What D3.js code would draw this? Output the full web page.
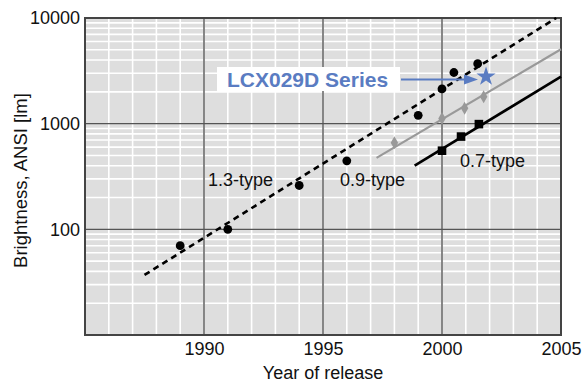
<!DOCTYPE html>
<html><head><meta charset="utf-8">
<script src="https://cdn.jsdelivr.net/npm/d3@7"></script>
<style>body{margin:0;background:#fff}svg{display:block}text{font-family:"Liberation Sans",Arial,sans-serif}</style>
</head><body>
<svg id="c" width="582" height="383"></svg>
<script>
// ---- data ----
const xTicks = [1990, 1995, 2000, 2005];
const yTicks = [100, 1000, 10000];
const years13 = [1989, 1991, 1994, 1996, 1999, 2000, 2000.5, 2001.5];
const bright13 = [70, 100, 260, 445, 1200, 2130, 3050, 3700];
const trendYears13 = [1987.5, 2004.8];
const trend13 = [37, 10000];
const years09 = [1998, 2000, 2000.95, 2001.75];
const bright09 = [660, 1120, 1400, 1800];
const trendYears09 = [1997.25, 2005];
const trend09 = [475, 5060];
const years07 = [2000, 2000.8, 2001.55];
const bright07 = [555, 755, 990];
const trendYears07 = [1998.85, 2005];
const trend07 = [400, 2790];
const starYear = [2001.85];
const starBright = [2790];
const seriesLabels = ["1.3-type", "0.9-type", "0.7-type"];
const calloutLabel = "LCX029D Series";

const svg = d3.select("#c");
const L = 85, R = 561, T = 18, B = 335;
const x = d3.scaleLinear().domain([1985, 2005]).range([L, R]);
const y = d3.scaleLog().domain([10, 10000]).range([B, T]);
const blue = "#5a7cc2";
const ink = "#111";

svg.append("rect").attr("x", L).attr("y", T).attr("width", R - L).attr("height", B - T).attr("fill", "#dedede");

// minor grid
const minorX = d3.range(1986, 2005);
const minorY = [];
[10, 100, 1000].forEach(d => { for (let k = 2; k <= 9; k++) minorY.push(d * k); });
const g = svg.append("g");
g.selectAll(".mx").data(minorX).join("line")
  .attr("x1", d => x(d)).attr("x2", d => x(d)).attr("y1", T).attr("y2", B)
  .attr("stroke", "#fff").attr("stroke-width", 1.6);
g.selectAll(".my").data(minorY).join("line")
  .attr("y1", d => y(d)).attr("y2", d => y(d)).attr("x1", L).attr("x2", R)
  .attr("stroke", "#fff").attr("stroke-width", 1.6);
// major grid
g.selectAll(".Mx").data([1990, 1995, 2000]).join("line")
  .attr("x1", d => x(d)).attr("x2", d => x(d)).attr("y1", T).attr("y2", B)
  .attr("stroke", "#555").attr("stroke-width", 1.4);
g.selectAll(".My").data([100, 1000]).join("line")
  .attr("y1", d => y(d)).attr("y2", d => y(d)).attr("x1", L).attr("x2", R)
  .attr("stroke", "#555").attr("stroke-width", 1.4);

// frame
svg.append("rect").attr("x", L).attr("y", T).attr("width", R - L).attr("height", B - T)
  .attr("fill", "none").attr("stroke", "#444").attr("stroke-width", 2);

// axes
const xa = svg.append("g").attr("transform", `translate(0,${B})`)
  .call(d3.axisBottom(x).tickValues(xTicks).tickSize(0).tickPadding(7).tickFormat(d3.format("d")));
xa.select(".domain").remove();
xa.selectAll("text").attr("font-size", 18).attr("fill", ink).style("font-family", "Liberation Sans, Arial, sans-serif");
const ya = svg.append("g").attr("transform", `translate(${L},0)`)
  .call(d3.axisLeft(y).tickValues(yTicks).tickSize(0).tickPadding(5).tickFormat(d3.format("d")));
ya.select(".domain").remove();
ya.selectAll("text").attr("font-size", 18).attr("fill", ink).style("font-family", "Liberation Sans, Arial, sans-serif");

svg.append("text").attr("x", (L + R) / 2).attr("y", 379).attr("text-anchor", "middle")
  .attr("font-size", 18).attr("fill", ink).text("Year of release");
svg.append("text").attr("transform", `translate(27,${(T + B) / 2 + 4}) rotate(-90)`).attr("text-anchor", "middle")
  .attr("font-size", 18.5).attr("fill", ink).text("Brightness, ANSI [lm]");

const line = d3.line().x(d => x(d[0])).y(d => y(d[1]));
const plot = svg.append("g");
plot.append("path").datum(d3.zip(trendYears13, trend13)).attr("d", line)
  .attr("fill", "none").attr("stroke", "#000").attr("stroke-width", 2.6).attr("stroke-dasharray", "6,4.5");
plot.append("path").datum(d3.zip(trendYears09, trend09)).attr("d", line)
  .attr("fill", "none").attr("stroke", "#999").attr("stroke-width", 2.2);
plot.append("path").datum(d3.zip(trendYears07, trend07)).attr("d", line)
  .attr("fill", "none").attr("stroke", "#000").attr("stroke-width", 2.6);

plot.selectAll(".c13").data(d3.zip(years13, bright13)).join("circle")
  .attr("cx", d => x(d[0])).attr("cy", d => y(d[1])).attr("r", 4.4).attr("fill", "#000");
plot.selectAll(".d09").data(d3.zip(years09, bright09)).join("path")
  .attr("d", d3.symbol(d3.symbolDiamond, 48))
  .attr("transform", d => `translate(${x(d[0])},${y(d[1])})`).attr("fill", "#999");
plot.selectAll(".s07").data(d3.zip(years07, bright07)).join("rect")
  .attr("x", d => x(d[0]) - 4.3).attr("y", d => y(d[1]) - 4.3).attr("width", 8.6).attr("height", 8.6).attr("fill", "#000");

// labels
const lab = [[seriesLabels[0], 208, 186], [seriesLabels[1], 340, 186], [seriesLabels[2], 460, 167]];
svg.selectAll(".lab").data(lab).join("text")
  .attr("x", d => d[1]).attr("y", d => d[2]).attr("font-size", 18).attr("fill", ink).text(d => d[0]);

// callout
svg.append("rect").attr("x", 217).attr("y", 67).attr("width", 183).attr("height", 24).attr("fill", "#fff");
svg.append("text").attr("x", 227).attr("y", 87).attr("font-size", 21).attr("font-weight", "bold")
  .attr("fill", blue).text(calloutLabel);
const sx = x(starYear[0]), sy = y(starBright[0]);
svg.append("line").attr("x1", 401).attr("x2", sx - 20).attr("y1", sy + 3).attr("y2", sy + 3)
  .attr("stroke", blue).attr("stroke-width", 2);
svg.append("path").attr("d", `M${sx - 8},${sy + 3} L${sx - 22},${sy - 2} L${sx - 22},${sy + 8} Z`).attr("fill", blue);
svg.selectAll(".star").data(d3.zip(starYear, starBright)).join("path")
  .attr("d", d3.symbol(d3.symbolStar, 115))
  .attr("transform", d => `translate(${x(d[0])},${y(d[1])})`).attr("fill", blue);
</script>
</body></html>
